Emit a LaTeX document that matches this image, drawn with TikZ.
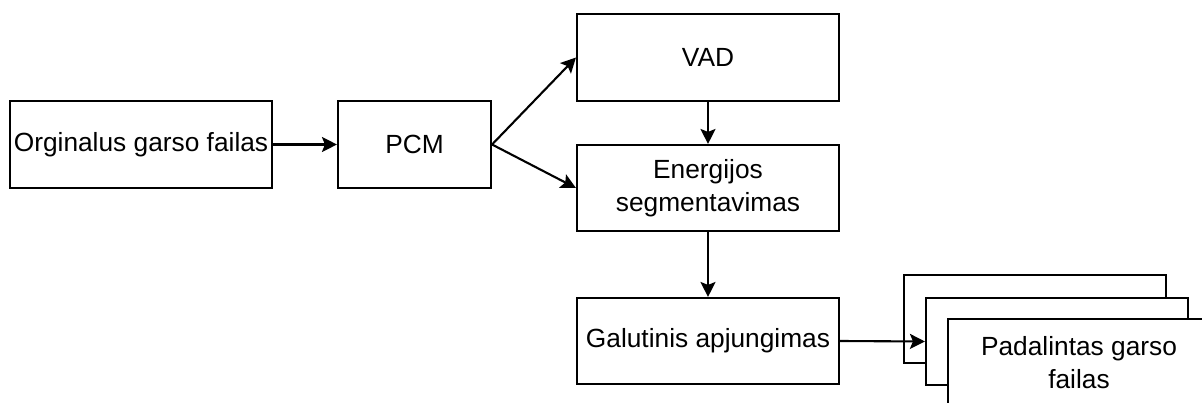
\documentclass[tikz,border=0pt]{standalone}
\usepackage{fontspec}
\setmainfont{Liberation Sans}
\usetikzlibrary{arrows.meta}
\tikzset{
  >={Stealth[length=15pt,width=15pt,inset=3pt]},
  box/.style={draw=black, line width=2.1pt, fill=white, minimum width=262pt,
    minimum height=87pt, inner sep=0pt, align=center,
    font=\fontsize{26.3}{33}\selectfont},
  conn/.style={draw=black, line width=2.1pt, ->}
}
\begin{document}
\begin{tikzpicture}[x=1pt,y=-1pt]
\path[use as bounding box] (0,0) rectangle (1202,403);
\begin{scope}
\clip (0,0) rectangle (1202,403);
% processing chain
\node[box] (orig) at (141,144.5) {Orginalus garso failas};
\node[box, minimum width=153pt] (pcm) at (414.5,144.5) {PCM};
\node[box] (vad) at (708,57.5) {VAD};
\node[box, minimum height=86pt] (energy) at (708,188) {Energijos\\segmentavimas};
\node[box, minimum height=86pt] (merge) at (708,341) {Galutinis apjungimas};
% stack of output files
\node[box, minimum height=88pt] (split1) at (1035,319) {};
\node[box, minimum height=87pt] (split2) at (1057,341.5) {};
\node[box, minimum height=88pt] (split3) at (1079,363) {Padalintas garso\\failas};
% connectors
\draw[conn] (orig.east) -- (pcm.west);
\draw[conn] (pcm.east) -- (vad.west);
\draw[conn] (pcm.east) -- (energy.west);
\draw[conn] (vad.south) -- (energy.north);
\draw[conn] (energy.south) -- (merge.north);
\draw[conn] (merge.east) -- (split2.west);
\end{scope}
\end{tikzpicture}
\end{document}
